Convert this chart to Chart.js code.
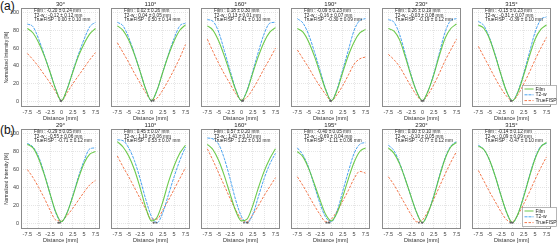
<!DOCTYPE html>
<html>
<head>
<meta charset="utf-8">
<script src="https://cdn.jsdelivr.net/npm/chart.js@4.4.0/dist/chart.umd.min.js"></script>
<style>
body { margin: 0; background: #fff; width: 558px; height: 244px; position: relative; overflow: hidden; font-family: "Liberation Sans", Arial, sans-serif; }
.panel { position: absolute; }
.tag { position: absolute; font-size: 12px; line-height: 12px; color: #111; }
</style>
</head>
<body>
<div class="tag" style="left:0;top:0">(a)</div>
<div class="tag" style="left:0;top:124px">(b)</div>
<script>
// sample positions along the profile (mm)
const xs = [-7.5, -6.25, -5, -3.75, -2.5, -1.25, 0, 1.25, 2.5, 3.75, 5, 6.25, 7.5];
const xTicks = [-7.5, -5, -2.5, 0, 2.5, 5, 7.5];
const yTicks = [0, 20, 40, 60, 80, 100];

const anglesA = ['30°', '110°', '160°', '190°', '230°', '315°'];
const anglesB = ['29°', '110°', '160°', '195°', '230°', '315°'];

// row (a) profiles
const filmA = [
    [82, 77, 66, 51, 33, 14, 1, 14, 33, 51, 65, 76, 82],
    [85, 80, 69, 53, 34, 14, 1, 13, 33, 52, 68, 80, 86],
    [85, 80, 68, 51, 32, 13, 1, 12, 32, 51, 67, 78, 83],
    [82, 78, 67, 51, 32, 13, 1, 13, 33, 52, 67, 77, 81],
    [82, 79, 69, 50, 29, 11, 1, 12, 30, 52, 71, 82, 87],
    [86, 82, 70, 51, 30, 11, 1, 11, 30, 51, 70, 81, 86]
];
const t2wA = [
    [87, 84, 70, 52, 33, 14, 1, 14, 34, 53, 70, 84, 89],
    [89, 85, 72, 54, 34, 14, 1, 13, 33, 53, 71, 85, 88],
    [92, 90, 78, 57, 35, 14, 1, 13, 34, 56, 76, 88, 89],
    [93, 88, 75, 56, 35, 14, 1, 14, 36, 58, 80, 91, 93],
    [92, 89, 75, 53, 30, 11, 1, 12, 31, 55, 78, 91, 93],
    [90, 85, 71, 52, 30, 11, 1, 12, 32, 55, 78, 92, 95]
];
const fispA = [
    [54, 47, 39, 30, 21, 11, 1, 10, 20, 29, 38, 47, 55],
    [66, 55, 44, 32, 21, 10, 2, 4, 13, 24, 36, 49, 64],
    [70, 56, 43, 31, 20, 9, 2, 5, 14, 25, 37, 48, 60],
    [58, 48, 38, 27, 17, 8, 1, 8, 18, 30, 42, 48, 50],
    [53, 47, 39, 28, 17, 7, 1, 8, 19, 32, 46, 58, 70],
    [62, 50, 38, 26, 15, 6, 1, 8, 20, 33, 47, 60, 72]
];

// row (b) profiles
const filmB = [
    [88, 84, 72, 54, 33, 13, 2, 12, 30, 50, 67, 77, 80],
    [91, 85, 75, 60, 40, 18, 3, 7, 24, 46, 64, 78, 87],
    [88, 82, 70, 53, 33, 14, 3, 5, 20, 40, 58, 72, 83],
    [80, 74, 61, 44, 26, 10, 3, 12, 30, 50, 68, 80, 84],
    [84, 78, 66, 49, 30, 12, 1, 12, 30, 52, 72, 85, 90],
    [86, 82, 70, 52, 31, 12, 1, 11, 30, 52, 72, 85, 90]
];
const t2wB = [
    [89, 85, 74, 55, 33, 12, 2, 12, 31, 52, 70, 83, 84],
    [93, 92, 84, 70, 50, 27, 8, 1, 12, 32, 52, 70, 85],
    [95, 94, 88, 72, 50, 26, 8, 1, 10, 30, 50, 66, 78],
    [84, 76, 62, 42, 22, 7, 2, 14, 36, 58, 78, 88, 90],
    [87, 81, 67, 49, 30, 12, 1, 12, 31, 53, 73, 86, 91],
    [87, 82, 70, 52, 31, 12, 1, 11, 31, 53, 73, 86, 89]
];
const fispB = [
    [60, 51, 40, 28, 15, 4, 3, 9, 17, 26, 35, 43, 48],
    [75, 63, 52, 40, 28, 16, 5, 5, 15, 26, 38, 50, 62],
    [83, 70, 56, 42, 28, 15, 5, 2, 10, 20, 31, 41, 51],
    [52, 42, 31, 20, 10, 2, 5, 14, 25, 37, 50, 58, 56],
    [52, 43, 32, 21, 10, 2, 4, 14, 27, 41, 55, 68, 80],
    [59, 47, 35, 24, 13, 4, 2, 10, 22, 35, 49, 62, 74]
];

// offset (mean, sd) in mm
const filmStatA = [[-0.20, 0.24], [0.02, 0.26], [0.18, 0.30], [-0.09, 0.23], [0.26, 0.19], [-0.15, 0.23]];
const t2wStatA = [[-0.12, 0.12], [0.04, 0.05], [0.13, 0.01], [-0.16, 0.07], [-0.03, 0.08], [-0.31, 0.07]];
const fispStatA = [[0.00, 0.10], [0.50, 0.14], [0.41, 0.10], [-0.30, 0.09], [-0.19, 0.12], [-0.39, 0.10]];
const filmStatB = [[-0.29, 0.05], [0.45, 0.07], [0.57, 0.20], [-0.40, 0.05], [0.00, 0.10], [-0.14, 0.12]];
const t2wStatB = [[-0.55, 0.06], [1.10, 0.06], [1.41, 0.10], [-0.69, 0.04], [-0.10, 0.05], [0.09, 0.09]];
const fispStatB = [[-0.71, 0.12], [0.53, 0.07], [1.22, 0.10], [-1.11, 0.06], [-0.77, 0.12], [-0.47, 0.10]];

const FONT = '"Liberation Sans", Arial, sans-serif';
const colFilm = 'rgba(92, 196, 55, 0.9)';
const colT2w = '#4aa3f0';
const colFisp = '#f2764a';
const panelLefts = [21, 111, 201, 291, 382, 472];

function statLine(name, s) {
    return name + ' : ' + s[0].toFixed(2) + ' \u00b1 ' + s[1].toFixed(2) + ' mm';
}

const decor = {
    id: 'decor',
    afterDraw(chart, args, o) {
        const { ctx, chartArea: a } = chart;
        ctx.save();
        ctx.strokeStyle = '#8c8c8c';
        ctx.lineWidth = 1;
        ctx.strokeRect(a.left + 0.5, a.top + 0.5, a.right - a.left - 1, a.bottom - a.top - 1);

        ctx.fillStyle = '#222';
        ctx.font = '6px ' + FONT;
        ctx.textAlign = 'center';
        ctx.textBaseline = 'middle';
        ctx.fillText(o.title, (a.left + a.right) / 2, a.top - 4);

        ctx.font = '4.7px ' + FONT;
        ctx.textAlign = 'left';
        o.lines.forEach((t, i) => ctx.fillText(t, a.left + 13, a.top + 3.2 + i * 4.3));

        if (o.legend) {
            const bx = a.right - 28.5, bw = 34, bh = 19, by = a.bottom - bh - 2.5;
            ctx.fillStyle = '#fff';
            ctx.fillRect(bx, by, bw, bh);
            ctx.strokeStyle = '#999';
            ctx.lineWidth = 0.7;
            ctx.strokeRect(bx, by, bw, bh);
            const items = [['Film', colFilm, []], ['T2-w', colT2w, [3, 1]], ['TrueFISP', colFisp, [2.5, 1.5]]];
            items.forEach((it, i) => {
                const yy = by + 3.5 + i * 5.8;
                ctx.strokeStyle = it[1];
                ctx.lineWidth = 1;
                ctx.setLineDash(it[2]);
                ctx.beginPath();
                ctx.moveTo(bx + 2, yy);
                ctx.lineTo(bx + 11, yy);
                ctx.stroke();
                ctx.setLineDash([]);
                ctx.fillStyle = '#222';
                ctx.font = '5px ' + FONT;
                ctx.fillText(it[0], bx + 13, yy + 0.3);
            });
        }
        ctx.restore();
    }
};

function pts(vals) {
    return vals.map((v, i) => ({ x: xs[i], y: v }));
}

function makePanel(row, col, title, film, t2w, fisp, stats) {
    const top = row === 0 ? 0 : 121;
    const height = row === 0 ? 122 : 123;
    const left = panelLefts[col] - 21;
    const canvas = document.createElement('canvas');
    canvas.className = 'panel';
    canvas.width = 106;
    canvas.height = height;
    canvas.style.left = left + 'px';
    canvas.style.top = top + 'px';
    canvas.style.width = '106px';
    canvas.style.height = height + 'px';
    document.body.appendChild(canvas);

    const lines = [statLine('Film', stats[0]), statLine('T2-w', stats[1]), statLine('TrueFISP', stats[2])];

    new Chart(canvas.getContext('2d'), {
        type: 'line',
        data: {
            datasets: [
                {
                    data: stats.map(s => ({ x: s[0], y: 1 })),
                    showLine: false,
                    pointRadius: 0.9,
                    pointBackgroundColor: '#666',
                    pointBorderWidth: 0
                },
                {
                    data: pts(film), borderColor: colFilm, borderWidth: 1.1,
                    pointRadius: 0, cubicInterpolationMode: 'monotone', fill: false
                },
                {
                    data: pts(t2w), borderColor: colT2w, borderWidth: 1,
                    borderDash: [3, 1], pointRadius: 0, cubicInterpolationMode: 'monotone', fill: false
                },
                {
                    data: pts(fisp), borderColor: colFisp, borderWidth: 1,
                    borderDash: [2.5, 1.5], pointRadius: 0, cubicInterpolationMode: 'monotone', fill: false
                }
            ]
        },
        options: {
            responsive: false,
            animation: false,
            events: [],
            layout: { padding: { top: 8, right: 6, left: 0, bottom: 0 } },
            plugins: {
                legend: { display: false },
                tooltip: { enabled: false },
                decor: { title: title, lines: lines, legend: col === 5 }
            },
            scales: {
                x: {
                    type: 'linear',
                    min: -8.9,
                    max: 8.5,
                    afterBuildTicks: s => { s.ticks = xTicks.map(v => ({ value: v })); },
                    afterFit: s => { s.height = 15; },
                    grid: { color: '#d4d4d4', lineWidth: 0.6, drawTicks: false },
                    border: { display: false, dash: [1, 1] },
                    ticks: {
                        autoSkip: false, maxRotation: 0, minRotation: 0, padding: 2,
                        color: '#444', font: { size: 5.5, family: FONT },
                        callback: v => String(v)
                    },
                    title: {
                        display: true, text: 'Distance [mm]', color: '#333',
                        font: { size: 5.5, family: FONT }, padding: { top: 0, bottom: 0.5 }
                    }
                },
                y: {
                    min: -6,
                    max: 105,
                    afterBuildTicks: s => { s.ticks = yTicks.map(v => ({ value: v })); },
                    afterFit: s => { s.width = 21; },
                    grid: { color: '#d4d4d4', lineWidth: 0.6, drawTicks: false },
                    border: { display: false, dash: [1, 1] },
                    ticks: {
                        display: col === 0, padding: 2, color: '#444',
                        font: { size: 5.5, family: FONT }
                    },
                    title: {
                        display: col === 0, text: 'Normalized Intensity [%]', color: '#333',
                        font: { size: 4.8, family: FONT }, padding: { top: 4, bottom: 0 }
                    }
                }
            }
        },
        plugins: [decor]
    });
}

for (let c = 0; c < 6; c++) {
    makePanel(0, c, anglesA[c], filmA[c], t2wA[c], fispA[c], [filmStatA[c], t2wStatA[c], fispStatA[c]]);
    makePanel(1, c, anglesB[c], filmB[c], t2wB[c], fispB[c], [filmStatB[c], t2wStatB[c], fispStatB[c]]);
}
</script>
</body>
</html>
